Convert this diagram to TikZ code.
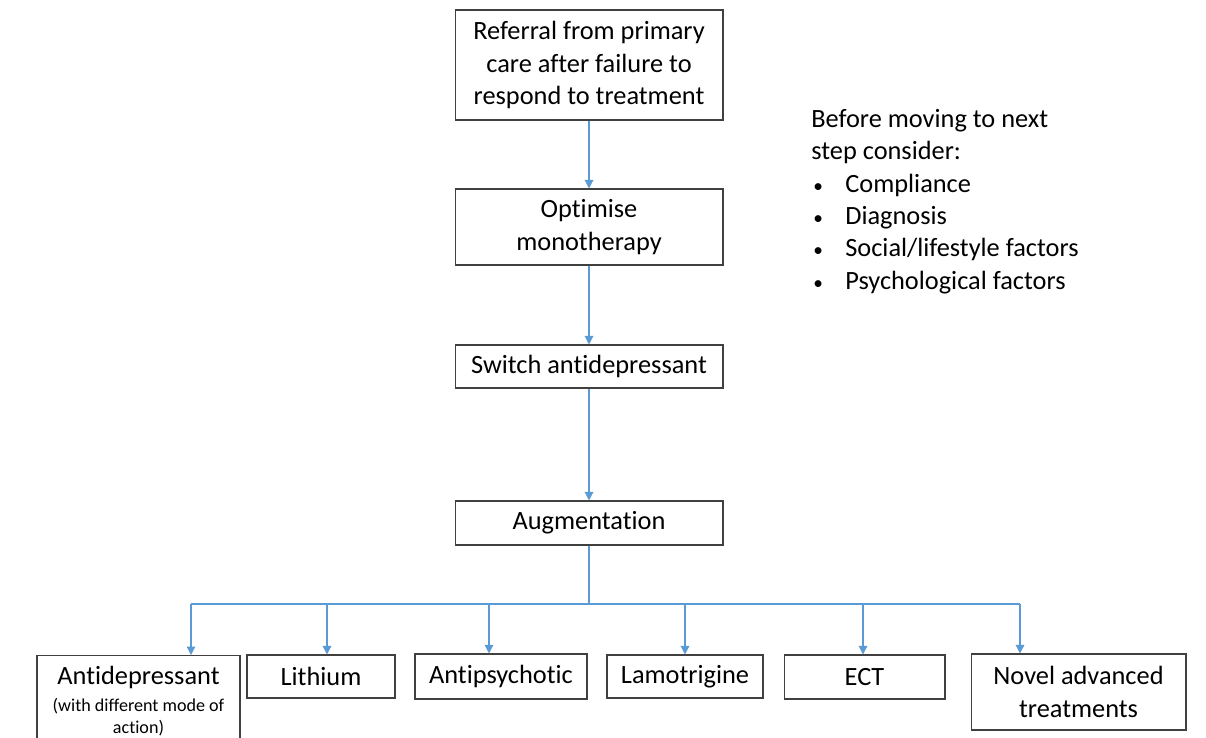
\documentclass[tikz,border=0pt]{standalone}
\usepackage{fontspec}
\setmainfont{Carlito}[Ligatures=NoCommon]
\usetikzlibrary{arrows.meta}

\definecolor{linkblue}{RGB}{91,155,213}
\definecolor{boxline}{RGB}{64,64,64}

\tikzset{
  stepbox/.style={shape=rectangle, draw=boxline, line width=0.6pt, align=center,
    font=\fontsize{15}{18.4}\selectfont, inner sep=0pt},
  flow/.style={draw=linkblue, line width=0.7pt, -{Triangle[length=0.17cm,width=0.17cm]}},
  bus/.style={draw=linkblue, line width=0.7pt}
}
\newcommand{\notebullet}{\makebox[0.68cm][l]{\hspace{0.04cm}{\fontsize{11}{11}\selectfont\textbullet}}}

\begin{document}
\begin{tikzpicture}[x=0.02cm,y=-0.02cm]
      \useasboundingbox (0,0) rectangle (1206,737);

      \node[stepbox, minimum width=5.36cm, minimum height=2.2cm] (REF) at (589,65)
        {Referral from primary\\care after failure to\\respond to treatment};
      \node[stepbox, minimum width=5.36cm, minimum height=1.52cm] (OPT) at (589,227)
        {Optimise\\monotherapy};
      \node[stepbox, minimum width=5.36cm, minimum height=0.86cm] (SW) at (589,366.5)
        {Switch antidepressant};
      \node[stepbox, minimum width=5.36cm, minimum height=0.88cm] (AUG) at (589,523)
        {Augmentation};

      % note at the right
      \node[align=left, anchor=north west, inner sep=0pt,
        font=\fontsize{15}{18.4}\selectfont] (NOTE) at (811,109)
        {Before moving to next\\step consider:\\
         \notebullet Compliance\\
         \notebullet Diagnosis\\
         \notebullet Social/lifestyle factors\\
         \notebullet Psychological factors};

      % bottom row
      \node[stepbox, align=flush center, anchor=north, text width=4.06cm, inner ysep=0.22cm] (AD) at (138.5,655)
        {Antidepressant\par\vspace{0.1cm}
         \fontsize{10.3}{12.4}\selectfont (with different mode of\\action)\par
         \vspace{0.4cm}};
      \node[stepbox, minimum width=2.96cm, minimum height=0.86cm] (LI) at (321,676.5) {Lithium};
      \node[stepbox, minimum width=3.44cm, minimum height=0.9cm] (AP) at (501,676.5) {Antipsychotic};
      \node[stepbox, minimum width=3.12cm, minimum height=0.86cm] (LA) at (685,676.5) {Lamotrigine};
      \node[stepbox, minimum width=3.22cm, minimum height=0.88cm] (ECT) at (864.5,677) {ECT};
      \node[stepbox, minimum width=4.3cm, minimum height=1.52cm] (NOV) at (1078.5,692)
        {Novel advanced\\treatments};

      \coordinate (BUS) at (589,604);
      \coordinate (D1) at (191,604);
      \coordinate (D2) at (327,604);
      \coordinate (D3) at (489,604);
      \coordinate (D4) at (685,604);
      \coordinate (D5) at (863,604);
      \coordinate (D6) at (1020,604);

      \draw[flow] (REF) -- (OPT);
      \draw[flow] (OPT) -- (SW);
      \draw[flow] (SW) -- (AUG);

      \draw[bus] (AUG) -- (BUS);
      \draw[bus] (D1) -- (D6);

      \draw[flow] (D1) -- (D1 |- AD.north);
      \draw[flow] (D2) -- (D2 |- LI.north);
      \draw[flow] (D3) -- (D3 |- AP.north);
      \draw[flow] (D4) -- (D4 |- LA.north);
      \draw[flow] (D5) -- (D5 |- ECT.north);
      \draw[flow] (D6) -- (D6 |- NOV.north);
  \end{tikzpicture}
\end{document}
